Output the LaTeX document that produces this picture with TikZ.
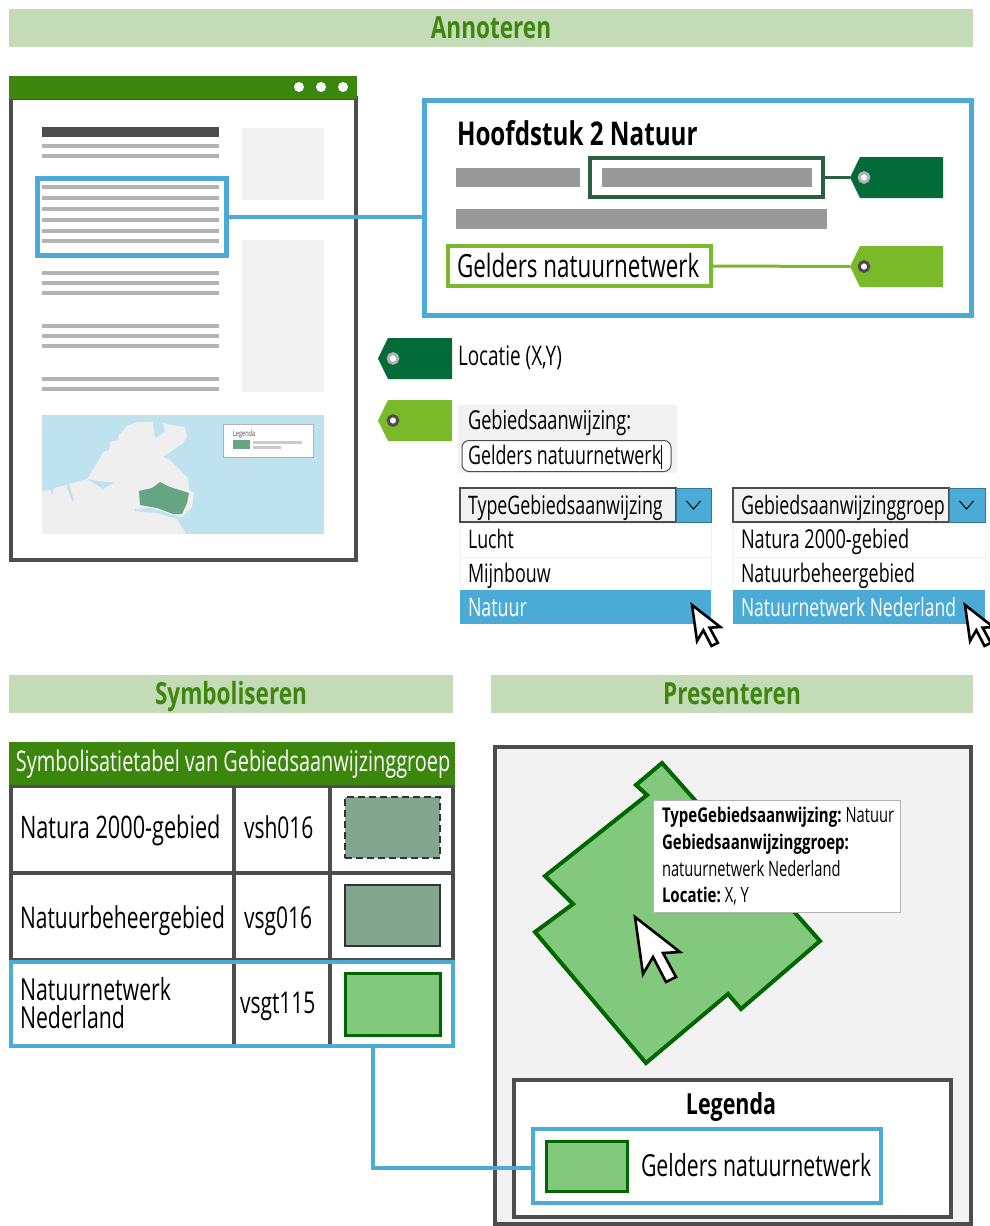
\documentclass[tikz,border=0pt]{standalone}
\usepackage{fontspec}
\setmainfont{Open Sans}[FakeStretch=0.70,BoldFont={Open Sans Bold},BoldFeatures={FakeStretch=0.74}]
\definecolor{hdr}{HTML}{C3DBB6}
\definecolor{hdrtxt}{HTML}{3F860F}
\definecolor{bar}{HTML}{3B860C}
\definecolor{frame}{HTML}{4D4D4D}
\definecolor{blue}{HTML}{4BABD6}
\definecolor{lgrey}{HTML}{F2F2F2}
\definecolor{mgrey}{HTML}{B3B3B3}
\definecolor{tbar}{HTML}{999999}
\definecolor{dtag}{HTML}{036B38}
\definecolor{ltag}{HTML}{7AB929}
\definecolor{dbox}{HTML}{2B5F3F}
\definecolor{water}{HTML}{BEE2EE}
\definecolor{land}{HTML}{EFEFEF}
\definecolor{mapg}{HTML}{66A583}
\definecolor{swgrey}{HTML}{82A690}
\definecolor{swgreen}{HTML}{82C97D}
\definecolor{dgreen}{HTML}{006600}
\tikzset{
  box/.style={rectangle,inner sep=0pt,outer sep=0pt},
  txt/.style={anchor=base west,inner sep=0pt,outer sep=0pt,text=#1},
  txt/.default=black,
  hdrlabel/.style={anchor=base,inner sep=0pt,outer sep=0pt,text=hdrtxt,font=\fontsize{30.5}{30.5}\selectfont\bfseries},
  hline/.style={draw=mgrey,line width=3.5pt},
  cursorshape/.style={draw=black,fill=white,line width=2.6pt,line join=miter},
  linkblue/.style={draw=blue,line width=4pt},
}
\newcommand{\bx}[6]{%
  \pgfmathsetmacro{\bxw}{#5-#3}\pgfmathsetmacro{\bxh}{#6-#4}%
  \pgfmathsetmacro{\bxcx}{(#5+#3)/2}\pgfmathsetmacro{\bxcy}{(#6+#4)/2}%
  \node[box,#2,minimum width=\bxw pt,minimum height=\bxh pt] (#1) at (\bxcx,\bxcy) {};}
\newcommand{\lbl}[6]{\node[txt=#2,font=\fontsize{#3}{#3}\selectfont] (#1) at (#4,#5) {#6};}
\newcommand{\tipb}[1]{{\fontsize{20.3}{20.3}\selectfont\bfseries #1}}
\newcommand{\tagshape}[5]{% colour, ring colour, x, y top, name
  \fill[#1] (#3,#4+20.5) -- (#3+10,#4) -- (#3+93,#4) -- (#3+93,#4+41) -- (#3+10,#4+41) -- cycle;
  \draw[draw=#2,fill=white,line width=3pt] (#3+14,#4+20.5) circle (4.8pt);
  \coordinate (#5) at (#3,#4+20.5);}
\newcommand{\tagshort}[4]{%
  \fill[#1] (#3,#4+20.5) -- (#3+10,#4) -- (#3+74,#4) -- (#3+74,#4+41) -- (#3+10,#4+41) -- cycle;
  \draw[draw=#2,fill=white,line width=3pt] (#3+15,#4+20.5) circle (4.8pt);}
\newcommand{\cursorat}[3]{\draw[cursorshape,shift={(#1,#2)},scale=#3] (0,0) -- (8,57) -- (18,40) -- (31,65) -- (41,60) -- (28,36) -- (45,35) -- cycle;}
\newcommand{\chev}[2]{\draw[draw=black,line width=1pt] (#1-7,#2-4) -- (#1,#2+4) -- (#1+7,#2-4);}
\begin{document}
\begin{tikzpicture}[x=1pt,y=-1pt]
\useasboundingbox (0,0) rectangle (990,1226);
\clip (0,0) rectangle (990,1226);
% headers
\bx{hA}{fill=hdr}{9}{9}{973}{47}
\node[hdrlabel] (hAt) at (491,38) {Annoteren};
\bx{hS}{fill=hdr}{9}{675}{453}{713}
\node[hdrlabel] (hSt) at (231,704) {Symboliseren};
\bx{hP}{fill=hdr}{491}{675}{973}{713}
\node[hdrlabel] (hPt) at (732,704) {Presenteren};
% browser
\bx{win}{draw=frame,line width=4pt,fill=white}{11}{98}{356}{560}
\bx{winbar}{fill=bar}{9}{76}{357}{99}
\foreach \dx in {299,321,343} \fill[white] (\dx,87) circle (5pt);
\bx{wt}{fill=frame}{42}{127}{219}{137}
\foreach \ly in {146,156,187,198,209,220,231,241,273,283,293,326,336,346,379,389}
  \draw[hline] (42,\ly) -- (219,\ly);
\bx{side1}{fill=lgrey}{242}{128}{324}{200}
\bx{side2}{fill=lgrey}{242}{240}{324}{392}
% map
\bx{map}{fill=water}{42}{415}{324}{534}
\fill[land] (42,534) -- (42,491) -- (50,490) -- (53,495) -- (54,488) -- (66,485) -- (72,501) -- (74,500) -- (69,484) -- (87,479) -- (103,489) -- (115,482) -- (106,482) -- (87,479) -- (100,458) -- (103,452) -- (109,450) -- (110,442) -- (118,440) -- (119,435) -- (128,425) -- (138,422) -- (153,422) -- (154,432) -- (155,438) -- (165,432) -- (163,423) -- (170,425) -- (185,427) -- (187,437) -- (183,443) -- (163,457) -- (170,460) -- (188,478) -- (189,490) -- (194,493) -- (192,507) -- (182,517) -- (177,519) -- (186,534) -- cycle;
\fill[water] (135,509) -- (150,508) -- (173,515) -- (182,517) -- (177,519) -- (157,513) -- (135,511) -- cycle;
\fill[mapg] (139,491) -- (152,488) -- (160,482) -- (170,487) -- (189,493) -- (187,503) -- (182,514) -- (173,514) -- (157,508) -- (140,505) -- cycle;
\bx{mapleg}{draw=mgrey,line width=1pt,fill=white}{223}{424}{313}{457}
\lbl{maplegt}{frame}{8}{233}{436}{Legenda}
\bx{maplegs}{fill=mapg}{233}{440}{250}{449}
\bx{mapl1}{fill=mgrey!70}{253}{441}{302}{443.5}
\bx{mapl2}{fill=mgrey!70}{253}{446}{281}{448.5}
% annotate view
\bx{srcbox}{draw=blue,line width=5pt}{37}{178}{226}{255}
\bx{detail}{draw=blue,line width=5pt,fill=white}{424.5}{100}{971}{315}
\draw[linkblue] (srcbox.east) -- (detail.west |- srcbox.east);
\node[txt,font=\fontsize{32.7}{32.7}\selectfont\bfseries] (title) at (457,145) {Hoofdstuk 2 Natuur};
\bx{g1}{fill=tbar}{456}{168}{580}{187}
\bx{dbx}{draw=dbox,line width=3.5pt}{590}{158}{823}{197}
\bx{g2}{fill=tbar}{602}{168}{812}{187}
\bx{g3}{fill=tbar}{456}{209}{827}{229}
\bx{lbx}{draw=ltag,line width=3.5pt}{448}{246}{711}{286}
\lbl{lbxt}{black}{32}{457}{277}{Gelders natuurnetwerk}
\tagshape{dtag}{mgrey}{850}{157}{tagD}
\tagshape{ltag}{frame}{850}{246}{tagL}
\draw[draw=dbox,line width=3pt] (dbx.east) -- (tagD);
\draw[draw=ltag,line width=3pt] (lbx.east) -- (tagL);
% legend tags and form
\tagshort{dtag}{mgrey}{378}{338}
\lbl{loc}{black}{27}{458}{365}{Locatie (X,Y)}
\tagshort{ltag}{frame}{378}{400}
\bx{form}{fill=lgrey}{458}{405}{677}{473}
\lbl{formt}{black}{26}{468}{429}{Gebiedsaanwijzing:}
\node[box,draw=frame,line width=1pt,fill=white,rounded corners=7pt,minimum width=209pt,minimum height=31pt] (inp) at (566.5,456) {};
\lbl{inpt}{black}{25.5}{468}{464}{Gelders natuurnetwerk}
\draw[black,line width=.7pt] (661,445) -- (661,469);
% dropdown 1
\bx{d1}{draw=frame,line width=1.5pt,fill=lgrey}{460}{488}{676}{522}
\bx{d1b}{draw=blue!70!black,line width=1pt,fill=blue}{676}{488}{711}{522}
\chev{693.5}{505}
\lbl{d1t}{black}{25.5}{468}{514}{TypeGebiedsaanwijzing}
\bx{d1r1}{fill=white,draw=lgrey,line width=1pt}{460}{523}{711}{557}
\bx{d1r2}{fill=white,draw=lgrey,line width=1pt}{460}{557}{711}{590}
\bx{d1r3}{fill=blue}{460}{590}{711}{624}
\lbl{d1a}{black}{25.5}{468}{548}{Lucht}
\lbl{d1c}{black}{25.5}{468}{582}{Mijnbouw}
\lbl{d1d}{white}{25.5}{468}{616}{Natuur}
\cursorat{692}{605}{0.63}
% dropdown 2
\bx{d2}{draw=frame,line width=1.5pt,fill=lgrey}{733}{488}{949}{522}
\bx{d2b}{draw=blue!70!black,line width=1pt,fill=blue}{949}{488}{985}{522}
\chev{966.5}{505}
\lbl{d2t}{black}{25.5}{741}{514}{Gebiedsaanwijzinggroep}
\bx{d2r1}{fill=white,draw=lgrey,line width=1pt}{733}{523}{985}{557}
\bx{d2r2}{fill=white,draw=lgrey,line width=1pt}{733}{557}{985}{590}
\bx{d2r3}{fill=blue}{733}{590}{985}{624}
\lbl{d2a}{black}{26}{741}{548}{Natura 2000-gebied}
\lbl{d2c}{black}{25.5}{741}{582}{Natuurbeheergebied}
\lbl{d2d}{white}{25}{741}{616}{Natuurnetwerk Nederland}
\cursorat{965}{605}{0.63}
% table
\bx{tbl}{draw=frame,line width=4pt,fill=white}{11}{786}{453}{1046}
\bx{tblh}{fill=bar}{9}{742}{455}{785}
\lbl{tblht}{white}{28.4}{16}{771}{Symbolisatietabel van Gebiedsaanwijzinggroep}
\foreach \ry in {873,960} \draw[draw=frame,line width=4pt] (11,\ry) -- (453,\ry);
\foreach \cx in {234,330} \draw[draw=frame,line width=3.5pt] (\cx,786) -- (\cx,1046);
\lbl{r1a}{black}{31}{20}{838}{Natura 2000-gebied}
\lbl{r1b}{black}{30}{244}{838}{vsh016}
\bx{s1}{draw=black!80,dash pattern=on 7pt off 4pt,line width=2pt,fill=swgrey}{345}{797}{440}{858}
\lbl{r2a}{black}{30}{20}{928}{Natuurbeheergebied}
\lbl{r2b}{black}{30}{244}{928}{vsg016}
\bx{s2}{draw=black!80,line width=2pt,fill=swgrey}{345}{885}{440}{946}
\lbl{r3a}{black}{30.4}{20}{1000}{Natuurnetwerk}
\lbl{r3a2}{black}{30.4}{20}{1028}{Nederland}
\lbl{r3b}{black}{30}{240}{1013}{vsgt115}
\bx{s3}{draw=dgreen,line width=3pt,fill=swgreen}{345}{973}{440}{1035}
\bx{sel}{draw=blue,line width=4pt}{11}{962}{453}{1046}
% presenting panel
\bx{panel}{draw=frame,line width=4pt,fill=lgrey}{495}{747}{971}{1224}
\draw[draw=dgreen,fill=swgreen,line width=4pt,line join=miter] (662,763) -- (820,941) -- (741,1009) -- (728,994) -- (646,1063) -- (535,932) -- (573,904) -- (545,876) -- (647,795) -- (636,785) -- cycle;
\bx{tip}{draw=mgrey,line width=1pt,fill=white}{653}{800}{900}{912}
\node[txt,font=\fontsize{21}{21}\selectfont] (tip1) at (662,822) {\tipb{TypeGebiedsaanwijzing:}\hspace{4pt}Natuur};
\node[txt,font=\fontsize{21}{21}\selectfont] (tip2) at (662,849) {\tipb{Gebiedsaanwijzinggroep:}};
\node[txt,font=\fontsize{21}{21}\selectfont] (tip3) at (662,876) {natuurnetwerk Nederland};
\node[txt,font=\fontsize{21}{21}\selectfont] (tip4) at (662,902) {\tipb{Locatie:}\hspace{4pt}X, Y};
\cursorat{635}{917}{1}
\bx{leg}{draw=frame,line width=4pt,fill=white}{514}{1080}{951}{1217}
\node[anchor=base,inner sep=0pt,font=\fontsize{29}{29}\selectfont\bfseries] (legt) at (731,1114) {Legenda};
\bx{legsel}{draw=blue,line width=4pt}{533}{1129}{881}{1203}
\bx{legsw}{draw=dgreen,line width=3pt,fill=swgreen}{546}{1141}{627}{1191}
\lbl{legs}{black}{30.4}{641}{1176}{Gelders natuurnetwerk}
\coordinate (elbow) at (373,1168);
\draw[linkblue] (sel.south -| elbow) -- (elbow) -- (legsel.west |- elbow);
\end{tikzpicture}
\end{document}
